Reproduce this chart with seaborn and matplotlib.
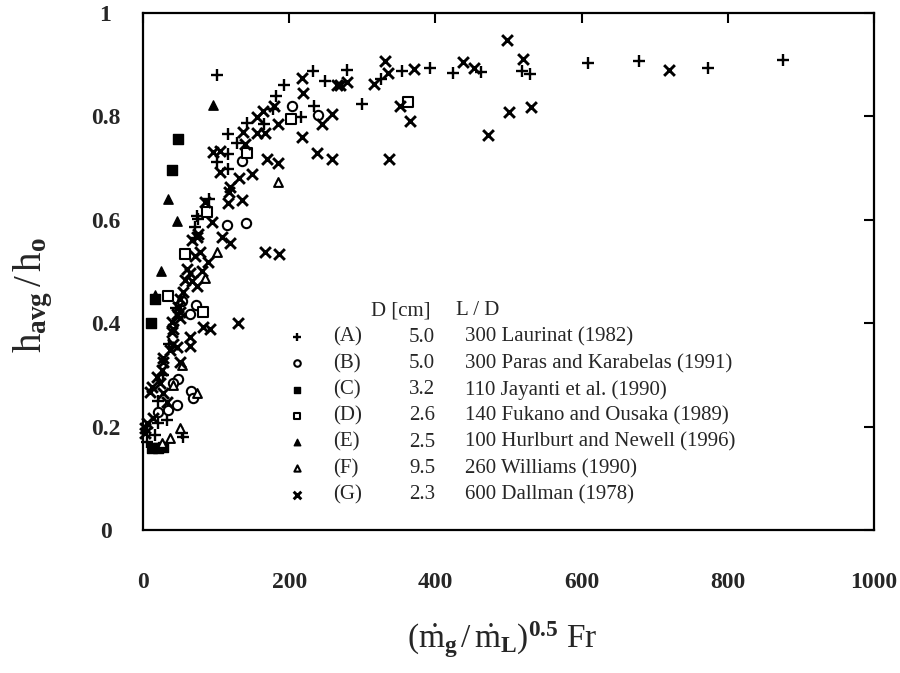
import numpy as np
import pandas as pd
import matplotlib
matplotlib.use("Agg")
import matplotlib.pyplot as plt
import seaborn as sns

sns.set_theme(style="white")
plt.rcParams["font.family"] = ["Liberation Serif", "DejaVu Serif"]
plt.rcParams["mathtext.fontset"] = "custom"
plt.rcParams["mathtext.rm"] = "Liberation Serif"
plt.rcParams["mathtext.it"] = "Liberation Serif:italic"
plt.rcParams["mathtext.bf"] = "Liberation Serif:bold"

# (A) Laurinat (1982)
a_x = [101, 193, 182, 178, 166, 142, 216, 234, 233, 249, 279, 299, 326, 354, 393, 424, 463, 518, 529, 609,
       679, 773, 876, 116, 129, 116, 101, 116, 90, 75, 74, 71, 71, 45, 35, 28, 20, 21, 33, 16, 5, 53, 55]
a_y = [0.880, 0.861, 0.839, 0.814, 0.785, 0.788, 0.798, 0.820, 0.888, 0.868, 0.890, 0.824, 0.872, 0.888,
       0.893, 0.884, 0.886, 0.888, 0.882, 0.903, 0.907, 0.893, 0.909, 0.765, 0.748, 0.727, 0.711, 0.698,
       0.640, 0.601, 0.607, 0.587, 0.564, 0.430, 0.360, 0.300, 0.250, 0.207, 0.213, 0.184, 0.171, 0.188, 0.180]
# (B) Paras and Karabelas (1991)
b_x = [204, 240, 135, 115, 141, 72, 64, 53, 48, 41, 66, 68, 46, 34, 21]
b_y = [0.820, 0.802, 0.713, 0.589, 0.593, 0.435, 0.417, 0.442, 0.293, 0.285, 0.268, 0.255, 0.242, 0.233, 0.229]
# (C) Jayanti et al. (1990)
c_x = [48, 40, 16, 11, 12, 20, 27]
c_y = [0.756, 0.696, 0.446, 0.401, 0.159, 0.159, 0.160]
# (D) Fukano and Ousaka (1989)
d_x = [202, 362, 142, 88, 57, 34, 82]
d_y = [0.795, 0.828, 0.729, 0.616, 0.533, 0.452, 0.422]
# (E) Hurlburt and Newell (1996)
e_x = [96, 34, 46, 25, 16]
e_y = [0.822, 0.640, 0.597, 0.500, 0.455]
# (F) Williams (1990)
f_x = [185, 101, 85, 53, 41, 74, 37, 51, 26]
f_y = [0.673, 0.537, 0.488, 0.320, 0.281, 0.265, 0.178, 0.198, 0.169]
# (G) Dallman (1978)
g_x = [498, 520, 438, 453, 371, 335, 316, 331, 279, 265, 269, 217, 219, 217, 245, 259, 238, 258, 352, 365,
       337, 472, 501, 531, 720, 179, 164, 156, 185, 137, 156, 167, 140, 96, 105, 105, 170, 185, 149, 131,
       119, 118, 135, 116, 85, 94, 74, 67, 108, 119, 167, 186, 75, 71, 78, 89, 60, 64, 81, 57,
       67, 74, 55, 51, 48, 51, 47, 51, 40, 82, 92, 130, 41, 40, 64, 64, 41, 47, 37, 27,
       27, 51, 26, 19, 23, 12, 10, 27, 33, 14, 5, 3, 3]
g_y = [0.948, 0.911, 0.905, 0.893, 0.891, 0.884, 0.862, 0.907, 0.866, 0.861, 0.861, 0.874, 0.845, 0.760,
       0.785, 0.804, 0.730, 0.717, 0.820, 0.791, 0.717, 0.764, 0.808, 0.818, 0.890, 0.820, 0.810, 0.798,
       0.785, 0.769, 0.767, 0.767, 0.746, 0.731, 0.733, 0.692, 0.717, 0.709, 0.688, 0.680, 0.663, 0.653,
       0.638, 0.632, 0.634, 0.595, 0.566, 0.560, 0.566, 0.556, 0.537, 0.533, 0.572, 0.529, 0.537, 0.519,
       0.504, 0.498, 0.500, 0.484, 0.481, 0.471, 0.461, 0.446, 0.432, 0.422, 0.417, 0.411, 0.403, 0.393,
       0.388, 0.401, 0.388, 0.382, 0.374, 0.355, 0.359, 0.353, 0.349, 0.333, 0.324, 0.324, 0.310, 0.295,
       0.285, 0.277, 0.267, 0.265, 0.248, 0.217, 0.207, 0.198, 0.188]

series_ids = ["(A)", "(B)", "(C)", "(D)", "(E)", "(F)", "(G)"]
diameters = ["5.0", "5.0", "3.2", "2.6", "2.5", "9.5", "2.3"]
length_ratios = ["300", "300", "110", "140", "100", "260", "600"]
sources = ["Laurinat (1982)", "Paras and Karabelas (1991)", "Jayanti et al. (1990)",
           "Fukano and Ousaka (1989)", "Hurlburt and Newell (1996)", "Williams (1990)",
           "Dallman (1978)"]
xs = [a_x, b_x, c_x, d_x, e_x, f_x, g_x]
ys = [a_y, b_y, c_y, d_y, e_y, f_y, g_y]

x_ticks = [0, 200, 400, 600, 800, 1000]
y_ticks = [0, 0.2, 0.4, 0.6, 0.8, 1.0]
y_tick_labels = ["0", "0.2", "0.4", "0.6", "0.8", "1"]

df = pd.concat(
    [pd.DataFrame({"x": x, "y": y, "series": sid}) for sid, x, y in zip(series_ids, xs, ys)],
    ignore_index=True,
)

# marker styling per data set
styles = {
    "(A)": dict(marker="+", s=80, linewidth=1.7),
    "(B)": dict(marker="o", s=45, facecolor="white", edgecolor="black", linewidth=1.5),
    "(C)": dict(marker="s", s=45, facecolor="black", edgecolor="black", linewidth=1.0),
    "(D)": dict(marker="s", s=45, facecolor="white", edgecolor="black", linewidth=1.5),
    "(E)": dict(marker="^", s=45, facecolor="black", edgecolor="black", linewidth=1.0),
    "(F)": dict(marker="^", s=40, facecolor="white", edgecolor="black", linewidth=1.5),
    "(G)": dict(marker="x", s=60, linewidth=2.1),
}

fig = plt.figure(figsize=(9.0, 6.73), dpi=100)
ax = fig.add_axes([0.1589, 0.2125, 0.8122, 0.7682])

for sid in series_ids:
    sub = df[df["series"] == sid]
    sns.scatterplot(data=sub, x="x", y="y", color="black", ax=ax, legend=False,
                    clip_on=False, zorder=3, **styles[sid])

ax.set_xlim(0, 1000)
ax.set_ylim(0, 1)
ax.set_xticks(x_ticks)
ax.set_xticklabels([str(v) for v in x_ticks])
ax.set_yticks(y_ticks)
ax.set_yticklabels(y_tick_labels)

ax.tick_params(axis="both", direction="in", length=7, width=1.5, color="black",
               top=True, right=True, labelsize=17)
ax.tick_params(axis="x", pad=30)
ax.tick_params(axis="y", pad=27)
for t in ax.get_xticklabels() + ax.get_yticklabels():
    t.set_fontweight("bold")
for t in ax.get_yticklabels():
    t.set_ha("center")

for sp in ax.spines.values():
    sp.set_visible(True)
    sp.set_color("black")
    sp.set_linewidth(1.6)

ax.set_ylabel(r"$\mathrm{h}_{\mathbf{avg}}\,/\,\mathrm{h}_{\mathbf{o}}$", fontsize=28)
ax.yaxis.label.set_va("center")
ax.yaxis.set_label_coords(-0.150, 0.455)
ax.set_xlabel(r"$(\dot{\mathrm{m}}_{\mathbf{g}}\,/\,\dot{\mathrm{m}}_{\mathbf{L}})^{\mathbf{0.5}}\ \mathrm{Fr}$",
              fontsize=24)
ax.xaxis.label.set_va("center")
ax.xaxis.set_label_coords(0.492, -0.213)

# Table-style key inside the axes
fs = 15
ax.text(0.352, 0.424, "D [cm]", transform=ax.transAxes, ha="center", va="center", fontsize=fs)
ax.text(0.458, 0.424, "L / D", transform=ax.transAxes, ha="center", va="center", fontsize=fs)
row0, step = 0.373, 0.0508
key_size = {"(A)": 40, "(B)": 22, "(C)": 22, "(D)": 22, "(E)": 22, "(F)": 20, "(G)": 30}
for i, sid in enumerate(series_ids):
    yy = row0 - i * step
    kw = dict(styles[sid])
    kw["s"] = key_size[sid]
    ax.scatter([0.211], [yy], transform=ax.transAxes, clip_on=False,
               color="black", zorder=4, **kw)
    ax.text(0.260, yy, sid, transform=ax.transAxes, ha="left", va="center", fontsize=fs)
    ax.text(0.382, yy, diameters[i], transform=ax.transAxes, ha="center", va="center", fontsize=fs)
    ax.text(0.440, yy, f"{length_ratios[i]} {sources[i]}", transform=ax.transAxes,
            ha="left", va="center", fontsize=fs)

fig.savefig("out.png", dpi=100, facecolor="white")
